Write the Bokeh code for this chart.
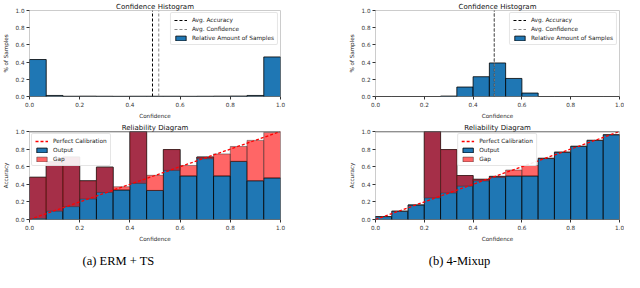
import numpy as np
from bokeh.plotting import figure
from bokeh.layouts import column, row
from bokeh.models import (Range1d, Legend, LegendItem, Label, FixedTicker,
                          PrintfTickFormatter, Span)
from bokeh.embed import file_html
from bokeh.resources import INLINE

# ---------------- data ----------------
n_bins = 15
ticks = [0.0, 0.2, 0.4, 0.6, 0.8, 1.0]

hist_titles = ["Confidence Histogram", "Confidence Histogram"]
rel_titles = ["Reliability Diagram", "Reliability Diagram"]
captions = ["(a) ERM + TS", "(b) 4-Mixup"]

# relative amount of samples per confidence bin
hist_a = [0.43, 0.012, 0.003, 0.004, 0.003, 0.002, 0.003, 0.003,
          0.003, 0.002, 0.003, 0.004, 0.005, 0.012, 0.46]
hist_b = [0.0, 0.0, 0.0, 0.0, 0.005, 0.11, 0.23, 0.39,
          0.21, 0.04, 0.0, 0.0, 0.0, 0.0, 0.0]
avg_acc_a, avg_conf_a = 0.49, 0.515
avg_acc_b, avg_conf_b = 0.487, 0.487

# reliability diagram: accuracy and mean confidence per bin
rel_acc_a = [0.48, 0.655, 0.71, 0.44, 0.595, 0.335, 1.0, 0.33,
             0.795, 0.495, 0.71, 0.495, 0.66, 0.44, 0.472]
rel_conf_a = [0.01, 0.094, 0.146, 0.232, 0.307, 0.372, 0.41, 0.502,
              0.558, 0.614, 0.69, 0.745, 0.83, 0.899, 0.99]
rel_acc_b = [0.034, 0.094, 0.165, 1.0, 0.795, 0.50, 0.457, 0.49,
             0.494, 0.494, 0.693, 0.764, 0.831, 0.899, 0.963]
rel_conf_b = [0.03, 0.094, 0.165, 0.244, 0.30, 0.379, 0.438, 0.478,
              0.562, 0.614, 0.70, 0.767, 0.833, 0.90, 0.965]

edges = np.linspace(0.0, 1.0, n_bins + 1)
lefts, rights = edges[:-1], edges[1:]

BLUE = "#1f77b4"
FONT = "DejaVu Sans"


def base_fig(width, height, bl, br, bt, bb, title, ylabel):
    p = figure(width=width, height=height, x_range=Range1d(0, 1), y_range=Range1d(0, 1),
               output_backend="svg", toolbar_location=None, title=title,
               min_border_left=bl, min_border_right=br, min_border_top=bt, min_border_bottom=bb)
    p.title.text_font = FONT
    p.title.text_font_size = "7px"
    p.title.text_font_style = "normal"
    p.title.text_color = "#111111"
    p.title.align = "center"
    p.title.standoff = 0
    p.title.offset = 0
    p.xgrid.visible = False
    p.ygrid.visible = False
    p.outline_line_color = "#cccccc"
    for ax in (p.xaxis[0], p.yaxis[0]):
        ax.ticker = FixedTicker(ticks=ticks)
        ax.formatter = PrintfTickFormatter(format="%.1f")
        ax.axis_line_color = None
        ax.major_tick_in = 0
        ax.major_tick_out = 3
        ax.minor_tick_line_color = None
        ax.major_tick_line_color = "#333333"
        ax.major_label_text_font = FONT
        ax.major_label_text_font_size = "5.7px"
        ax.major_label_text_color = "#333333"
        ax.major_label_standoff = 2
        ax.axis_label_text_font = FONT
        ax.axis_label_text_font_size = "5.6px"
        ax.axis_label_text_font_style = "normal"
        ax.axis_label_text_color = "#222222"
        ax.axis_label_standoff = 3
    p.xaxis.axis_label = "Confidence"
    p.yaxis.axis_label = ylabel
    return p


def style_legend(lg):
    lg.label_text_font = FONT
    lg.label_text_font_size = "5.8px"
    lg.label_text_color = "#222222"
    lg.label_height = 7
    lg.label_standoff = 5
    lg.glyph_height = 6
    lg.glyph_width = 13
    lg.spacing = 2
    lg.padding = 3
    lg.margin = 2
    lg.border_line_color = "#cccccc"
    lg.border_radius = 2
    lg.background_fill_alpha = 0.9


def hist_fig(width, bl, br, title, hist, acc, conf):
    p = base_fig(width, 121, bl, br, 9, 25, title, "% of Samples")
    bars = p.quad(left=lefts, right=rights, bottom=0, top=hist,
                  fill_color=BLUE, line_color="black", line_width=0.8)
    r_acc = p.line(x=[acc, acc], y=[ticks[0], ticks[-1]], line_color="black",
                   line_dash="3 2", line_width=1)
    r_conf = p.line(x=[conf, conf], y=[ticks[0], ticks[-1]], line_color="#888888",
                    line_dash="3 2", line_width=1)
    lg = Legend(items=[LegendItem(label="Avg. Accuracy", renderers=[r_acc]),
                       LegendItem(label="Avg. Confidence", renderers=[r_conf]),
                       LegendItem(label="Relative Amount of Samples", renderers=[bars])],
                location="top_right")
    style_legend(lg)
    p.add_layout(lg)
    return p


def rel_fig(width, bl, br, title, acc, conf, loc):
    p = base_fig(width, 123, bl, br, 9, 25, title, "Accuracy")
    out = p.quad(left=lefts, right=rights, bottom=0, top=acc,
                 fill_color=BLUE, line_color="black", line_width=0.8)
    lo = np.minimum(acc, conf)
    hi = np.maximum(acc, conf)
    gap = p.quad(left=lefts, right=rights, bottom=lo, top=hi,
                 fill_color="red", fill_alpha=0.6, line_color="#333333",
                 line_alpha=0.6, line_width=0.8)
    diag = p.line(x=[ticks[0], ticks[-1]], y=[ticks[0], ticks[-1]], line_color="red",
                  line_dash="3 2", line_width=1.3)
    p.add_layout(Span(location=ticks[-1], dimension="width", line_color="#555555",
                      line_width=1.5))
    lg = Legend(items=[LegendItem(label="Perfect Calibration", renderers=[diag]),
                       LegendItem(label="Output", renderers=[out]),
                       LegendItem(label="Gap", renderers=[gap])],
                location=loc)
    style_legend(lg)
    p.add_layout(lg)
    return p


WL, WR = 330, 294
BL_L, BR_L = 28, 50
BL_R, BR_R = 45, 5

h1 = hist_fig(WL, BL_L, BR_L, hist_titles[0], hist_a, avg_acc_a, avg_conf_a)
h2 = hist_fig(WR, BL_R, BR_R, hist_titles[1], hist_b, avg_acc_b, avg_conf_b)
r1 = rel_fig(WL, BL_L, BR_L, rel_titles[0], rel_acc_a, rel_conf_a, "top_left")
r2 = rel_fig(WR, BL_R, BR_R, rel_titles[1], rel_acc_b, rel_conf_b, "top_center")

cap = figure(width=WL + WR, height=28, x_range=Range1d(0, 1), y_range=Range1d(0, 1),
             output_backend="svg", toolbar_location=None, min_border=0)
cap.axis.visible = False
cap.grid.visible = False
cap.outline_line_color = None
for txt, xpx in zip(captions, [118, 459]):
    cap.add_layout(Label(x=xpx, y=12, x_units="screen", y_units="screen", text=txt,
                         text_align="center", text_baseline="middle",
                         text_font="Liberation Serif", text_font_size="12.5px",
                         text_color="black"))

layout = column(row(h1, h2), row(r1, r2), cap)

open("out.html", "w").write(file_html(layout, INLINE))
